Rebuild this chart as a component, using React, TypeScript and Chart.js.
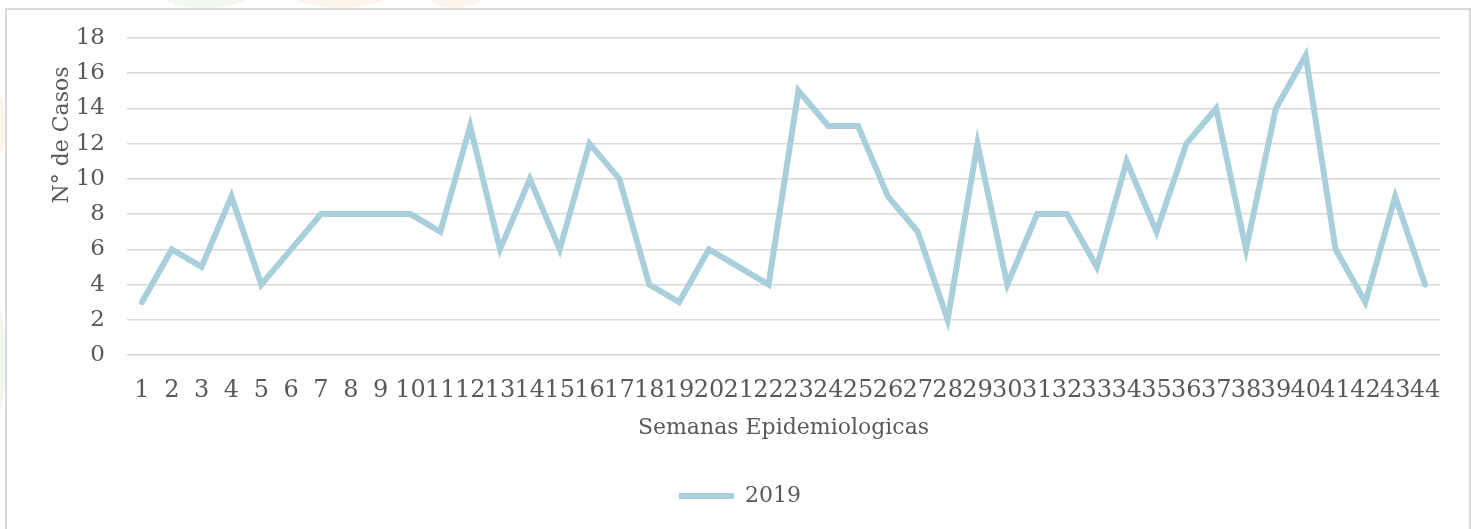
import React, { useEffect, useRef } from "react";
import { Chart, registerables } from "chart.js";

Chart.register(...registerables);

const weeks: string[] = Array.from({ length: 44 }, (_, i) => String(i + 1));
const cases2019: number[] = [
  3, 6, 5, 9, 4, 6, 8, 8, 8, 8, 7, 13, 6, 10, 6, 12, 10, 4, 3, 6, 5, 4,
  15, 13, 13, 9, 7, 2, 12, 4, 8, 8, 5, 11, 7, 12, 14, 6, 14, 17, 6, 3, 9, 4,
];
const seriesLabel = "2019";
const xTitle = "Semanas Epidemiologicas";
const yTitle = "N° de Casos";

const FONT = "'DejaVu Serif', serif";
const TEXT = "#595959";

const yTitlePlugin = {
  id: "yTitlePlugin",
  afterDraw(chart: any) {
    const ctx = chart.ctx;
    ctx.save();
    ctx.translate(62, 135);
    ctx.rotate(-Math.PI / 2);
    ctx.textAlign = "center";
    ctx.textBaseline = "middle";
    ctx.fillStyle = TEXT;
    ctx.font = `22px ${FONT}`;
    ctx.fillText(yTitle, 0, 0);
    ctx.restore();
  },
};

export default function App() {
  const ref = useRef<HTMLCanvasElement | null>(null);
  useEffect(() => {
    document.body.style.margin = "0";
    if (!ref.current) return;
    const chart = new Chart(ref.current, {
      type: "line",
      data: {
        labels: weeks,
        datasets: [
          {
            label: seriesLabel,
            data: cases2019,
            borderColor: "#a8cfdb",
            backgroundColor: "#a8cfdb",
            borderWidth: 6,
            pointRadius: 0,
            pointHoverRadius: 0,
            tension: 0,
            borderJoinStyle: "miter",
            borderCapStyle: "round",
          },
        ],
      },
      options: {
        responsive: false,
        animation: false,
        layout: { padding: { left: 40, top: 38, right: 31, bottom: 12 } },
        plugins: {
          tooltip: { enabled: false },
          legend: {
            position: "bottom",
            labels: {
              usePointStyle: true,
              pointStyle: "line",
              pointStyleWidth: 55,
              color: TEXT,
              font: { family: FONT, size: 22 },
              padding: 10,
            },
          },
        },
        scales: {
          x: {
            offset: true,
            grid: { display: false },
            border: { display: false },
            ticks: {
              autoSkip: false,
              maxRotation: 0,
              minRotation: 0,
              color: TEXT,
              padding: 13,
              font: { family: FONT, size: 24 },
            },
            title: {
              display: true,
              text: xTitle,
              color: TEXT,
              font: { family: FONT, size: 22 },
              padding: { top: 0, bottom: 34 },
            },
            afterFit(scale: any) {
              scale.height = 120;
            },
          },
          y: {
            min: 0,
            max: 18,
            grid: { color: "#d9d9d9", lineWidth: 1.5, drawTicks: false },
            border: { display: false },
            ticks: {
              stepSize: 2,
              color: TEXT,
              padding: 22,
              font: { family: FONT, size: 23 },
            },
            afterFit(scale: any) {
              scale.width = 87;
            },
          },
        },
      },
      plugins: [yTitlePlugin],
    });
    return () => chart.destroy();
  }, []);

  return (
    <div
      style={{
        position: "fixed",
        left: 0,
        top: 0,
        width: 1471,
        height: 529,
        overflow: "hidden",
        background: "#ffffff",
      }}
    >
      <div style={{ position: "absolute", left: 150, top: -40, width: 110, height: 48, borderRadius: "50%", background: "#f2f8ef" }} />
      <div style={{ position: "absolute", left: 280, top: -40, width: 120, height: 48, borderRadius: "50%", background: "#fdf5ec" }} />
      <div style={{ position: "absolute", left: 420, top: -40, width: 70, height: 48, borderRadius: "50%", background: "#fdf5ec" }} />
      <div style={{ position: "absolute", left: -40, top: 80, width: 46, height: 90, borderRadius: "50%", background: "#fdf5ec" }} />
      <div style={{ position: "absolute", left: -40, top: 280, width: 46, height: 160, borderRadius: "50%", background: "#f2f8ef" }} />
      <div
        style={{
          position: "absolute",
          left: 5,
          top: 8,
          width: 1462,
          height: 540,
          border: "2px solid #d9d9d9",
          background: "#ffffff",
        }}
      />
      <canvas
        ref={ref}
        width={1471}
        height={529}
        style={{ position: "absolute", left: 0, top: 0, width: 1471, height: 529 }}
      />
    </div>
  );
}
